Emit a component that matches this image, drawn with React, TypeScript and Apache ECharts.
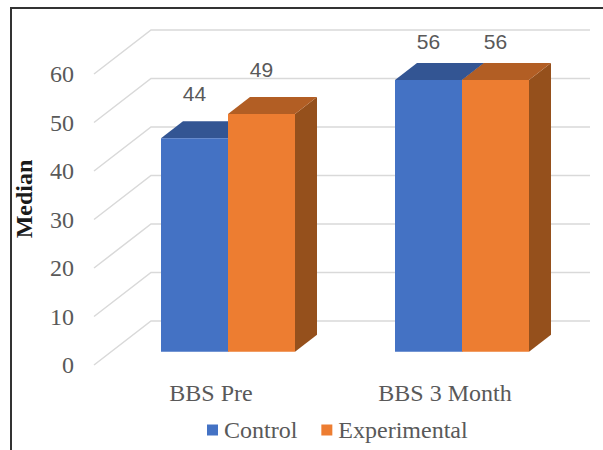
import React, { useEffect, useRef } from "react";
import * as echarts from "echarts";

const categories = ["BBS Pre", "BBS 3 Month"];
const controlValues = [44, 56];
const experimentalValues = [49, 56];
const yTicks = [0, 10, 20, 30, 40, 50, 60];

const SERIF = "'Liberation Serif', serif";
const BAR_W = 67;
const WALL_DX = 57;
const WALL_DY = 44;
const FRONT_DX = 17;
const FRONT_DY = 13.3;
const BACK_DX = 39;
const BACK_DY = 30.3;
const WALL_RIGHT = 590;

function barSeries(name: string, values: number[], side: number, front: string, top: string, right: string) {
  return {
    type: "custom",
    name,
    coordinateSystem: "cartesian2d",
    itemStyle: { color: front },
    data: values.map((v, i) => [i, v]),
    z: 3,
    renderItem: (_p: any, api: any) => {
      const i = api.value(0);
      const v = api.value(1);
      const base = api.coord([i, 0]);
      const head = api.coord([i, v]);
      const x0 = base[0] + FRONT_DX + (side === 0 ? -BAR_W : 0);
      const x1 = x0 + BAR_W;
      const yb = base[1] - FRONT_DY;
      const yt = head[1] - FRONT_DY;
      const dx = BACK_DX - FRONT_DX;
      const dy = BACK_DY - FRONT_DY;
      const lift = v >= 50 ? 39 : 45;
      return {
        type: "group",
        children: [
          { type: "polygon", shape: { points: [[x1, yb], [x1 + dx, yb - dy], [x1 + dx, yt - dy], [x1, yt]] }, style: { fill: right } },
          { type: "polygon", shape: { points: [[x0, yt], [x1, yt], [x1 + dx, yt - dy], [x0 + dx, yt - dy]] }, style: { fill: top } },
          { type: "rect", shape: { x: x0, y: yt, width: BAR_W, height: yb - yt }, style: { fill: front } },
          {
            type: "text",
            x: (x0 + x1) / 2,
            y: yt - lift,
            style: { text: String(v), fill: "#595959", font: "21px 'Liberation Sans', sans-serif", textAlign: "center", textVerticalAlign: "middle" },
          },
        ],
      };
    },
  };
}

export default function App() {
  const ref = useRef<HTMLDivElement>(null);
  useEffect(() => {
    const chart = echarts.init(ref.current!, undefined, { renderer: "svg" });
    chart.setOption({
      animation: false,
      backgroundColor: "#fff",
      grid: { left: 94, right: 41, top: 74, bottom: 85, outerBoundsMode: "none" },
      legend: {
        data: ["Control", "Experimental"],
        left: 202,
        top: 413,
        itemWidth: 11,
        itemHeight: 11,
        itemGap: 24,
        icon: "rect",
        textStyle: { fontFamily: SERIF, fontSize: 24, color: "#595959", padding: [0, 0, 0, 1] },
      },
      xAxis: {
        type: "category",
        data: categories,
        axisLine: { show: false },
        axisTick: { show: false },
        splitLine: { show: false },
        axisLabel: { fontFamily: SERIF, fontSize: 24, color: "#595959", margin: 16 },
      },
      yAxis: {
        type: "value",
        min: 0,
        max: 60,
        interval: 10,
        name: "Median",
        nameLocation: "middle",
        nameRotate: 90,
        nameGap: 58,
        nameTextStyle: { fontFamily: SERIF, fontSize: 24, fontWeight: "bold", color: "#1a1a1a", padding: [0, 0, 0, 41] },
        axisLine: { show: false },
        axisTick: { show: false },
        splitLine: { show: false },
        axisLabel: { fontFamily: SERIF, fontSize: 24, color: "#595959", margin: 20 },
      },
      graphic: [
        { type: "line", shape: { x1: 11, y1: 8, x2: 11, y2: 450 }, style: { stroke: "#333", lineWidth: 2 } },
        { type: "line", shape: { x1: 10, y1: 8, x2: 603, y2: 8 }, style: { stroke: "#333", lineWidth: 2 } },
      ],
      series: [
        {
          type: "custom",
          name: "walls",
          coordinateSystem: "cartesian2d",
          silent: true,
          z: 1,
          data: yTicks.map((t) => [0, t]),
          renderItem: (p: any, api: any) => {
            const c = api.coord([0, api.value(1)]);
            const x0 = p.coordSys.x;
            const y0 = c[1];
            return {
              type: "polyline",
              shape: { points: [[x0, y0], [x0 + WALL_DX, y0 - WALL_DY], [WALL_RIGHT, y0 - WALL_DY]] },
              style: { stroke: "#d9d9d9", lineWidth: 1.5, fill: "none" },
            };
          },
        },
        barSeries("Control", controlValues, 0, "#4472C4", "#335593", "#2C4A80"),
        barSeries("Experimental", experimentalValues, 1, "#ED7D31", "#B25E24", "#95501C"),
      ],
    } as any);
    return () => chart.dispose();
  }, []);
  return <div ref={ref} style={{ position: "fixed", left: 0, top: 0, width: 603, height: 450 }} />;
}
